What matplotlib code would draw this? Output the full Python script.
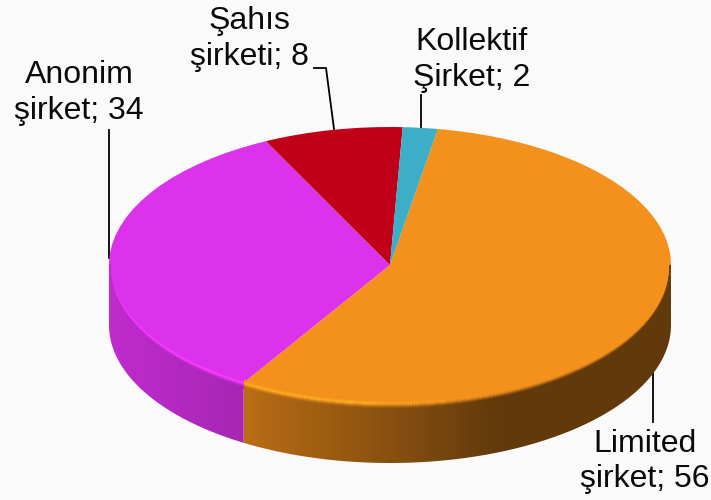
import numpy as np
import matplotlib
matplotlib.use('Agg')
import matplotlib.pyplot as plt
from matplotlib.collections import LineCollection
from matplotlib.colors import to_rgb
from matplotlib.patches import Polygon
from matplotlib.transforms import Affine2D

names = ['Limited\nşirket', 'Anonim\nşirket', 'Şahıs\nşirketi', 'Kollektif\nŞirket']
values = [56, 34, 8, 2]
colors = ['#F4901C', '#DC32EC', '#C00018', '#3CAEC8']

start_angle = 80.2
W, H = 711, 500
cx, cy, rx, ry = 390, 265, 281, 138
depth = 60 / ry

plt.rcParams['font.family'] = ['Liberation Sans', 'DejaVu Sans']

fig = plt.figure(figsize=(W / 100, H / 100), dpi=100, facecolor='#FAFAFA')
ax = fig.add_axes([0, 0, 1, 1])
ax.pie(values, colors=colors, startangle=start_angle, counterclock=False,
       wedgeprops={'linewidth': 0, 'zorder': 5})


def shade(x):
    return np.interp(x, [-1, -0.52, 0.39, 1], [0.87, 0.76, 0.40, 0.40])


# side wall and bevelled rim, built from the slice angles
edges = start_angle - 3.6 * np.concatenate([[0], np.cumsum(values)])
grad_x = np.linspace(-1.05, 1.05, 400)
rim_offsets = np.arange(-3.0, 6.5, 1.0)
segs, seg_cols = [], []
for i, col in enumerate(colors):
    base = np.array(to_rgb(col))
    # only the front half can be seen
    lo, hi = max(edges[i + 1], -180), min(edges[i], 0)
    if hi <= lo:
        continue
    a = np.radians(np.linspace(lo, hi, 200))
    x, y = np.cos(a), np.sin(a)
    outline = np.column_stack([np.r_[x, x[::-1]], np.r_[y, y[::-1] - depth]])
    img = ax.imshow(base[None, None, :] * shade(grad_x)[None, :, None], aspect='auto',
                    extent=(grad_x[0], grad_x[-1], -2, 1), zorder=3,
                    interpolation='bilinear')
    clip = Polygon(outline, closed=True, transform=ax.transData, fc='none', ec='none')
    ax.add_patch(clip)
    img.set_clip_path(clip)
    for off in rim_offsets:
        yb = y - off / ry * np.sqrt(-y)
        ridge_part = np.clip(1 - abs(off - 1.0) / 3.0, 0, 1)
        wall_part = np.clip((off - 1.5) / 4.0, 0, 1)
        for j in range(len(a) - 1):
            xm = (x[j] + x[j + 1]) / 2
            glow = np.clip((0.3 - xm) / 0.4, 0, 1) * ridge_part
            ridge = base + (np.minimum(base * 1.22, 1) - base) * glow
            c = ridge + (base * shade(xm) - ridge) * wall_part
            segs.append([(x[j] * 0.997, yb[j]), (x[j + 1] * 0.997, yb[j + 1])])
            seg_cols.append(np.clip(c, 0, 1))

ax.add_collection(LineCollection(segs, colors=seg_cols, linewidths=1.0, zorder=6,
                                 capstyle='butt'))
ax.set_aspect('auto')
ax.set_xlim(-cx / rx, (W - cx) / rx)
ax.set_ylim(-(H - cy) / ry, cy / ry)
ax.axis('off')

# labels and leaders sit in image pixels
pix = Affine2D().scale(1, -1).translate(0, H)
label_pos = [(644.5, 461.5), (79, 93), (249, 39), (472, 60)]
leaders = [
    [(653, 373), (653, 422)],
    [(109, 130), (109, 258)],
    [(314, 68), (326, 68), (334, 129)],
    [(421, 95), (421, 128)],
]
for name, v, pos, leader in zip(names, values, label_pos, leaders):
    ax.text(pos[0], pos[1], f'{name}; {v}', transform=pix, ha='center', va='center',
            fontsize=23, color='#0A0A0A', linespacing=1.22, zorder=8)
    xs, ys = zip(*leader)
    ax.plot(xs, ys, transform=pix, color='black', lw=1.3, zorder=2,
            solid_joinstyle='miter', clip_on=False)

fig.savefig('out.png', dpi=100, facecolor=fig.get_facecolor())
